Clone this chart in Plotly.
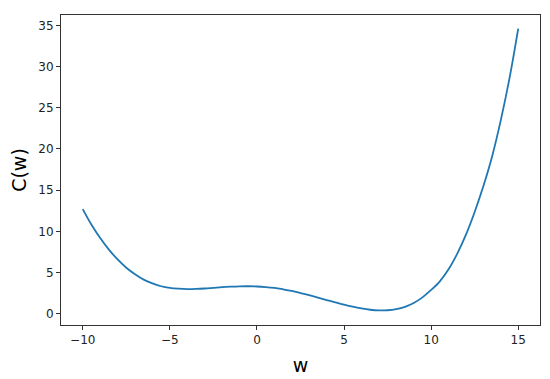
import plotly.graph_objects as go

# values
w = [-10, -9.5, -9, -8.5, -8, -7.5, -7, -6.5, -6, -5.5, -5, -4.5, -4, -3.5, -3,
     -2.5, -2, -1.5, -1, -0.5, 0, 0.5, 1, 1.5, 2, 2.5, 3, 3.5, 4, 4.5, 5,
     5.5, 6, 6.5, 7, 7.5, 8, 8.5, 9, 9.5, 10, 10.5, 11, 11.5, 12, 12.5, 13,
     13.5, 14, 14.5, 15]
C = [12.7, 10.8, 9.2, 7.8, 6.6, 5.6, 4.8, 4.15, 3.7, 3.35, 3.15, 3.05, 3.0, 3.02, 3.08,
     3.16, 3.24, 3.3, 3.34, 3.35, 3.32, 3.25, 3.15, 2.98, 2.78, 2.53, 2.26, 1.97, 1.68, 1.4, 1.12,
     0.87, 0.66, 0.5, 0.42, 0.44, 0.58, 0.86, 1.32, 2.0, 2.9, 3.95, 5.4, 7.3, 9.6, 12.35, 15.5,
     19.1, 23.5, 28.6, 34.6]

fig = go.Figure(go.Scatter(
    x=w, y=C, mode="lines", line=dict(color="#1f77b4", width=1.8, shape="spline"),
))

axis = dict(
    showline=True, linecolor="#333333", linewidth=1, mirror=True,
    ticks="outside", ticklen=4, tickcolor="#333333", showgrid=False, zeroline=False,
    tickfont=dict(size=12, color="#222222"), automargin=False,
)

# the page body adds 8px around the figure, so the figure is 8px smaller
fig.update_layout(
    width=542, height=371,
    margin=dict(l=53, r=10, t=7, b=54),
    paper_bgcolor="white", plot_bgcolor="white",
    font=dict(family="DejaVu Sans"),
    showlegend=False,
    xaxis=dict(axis, range=[-11.25, 16.25], tickvals=[-10, -5, 0, 5, 10, 15],
               ticktext=["\u221210", "\u22125", "0", "5", "10", "15"],
               title=dict(text="w", font=dict(size=19, color="black"), standoff=12)),
    yaxis=dict(axis, range=[-1.35, 36.25], tickvals=[0, 5, 10, 15, 20, 25, 30, 35],
               title=dict(text="C(w)", font=dict(size=19, color="black"), standoff=9)),
)

fig.write_html("out.html")
